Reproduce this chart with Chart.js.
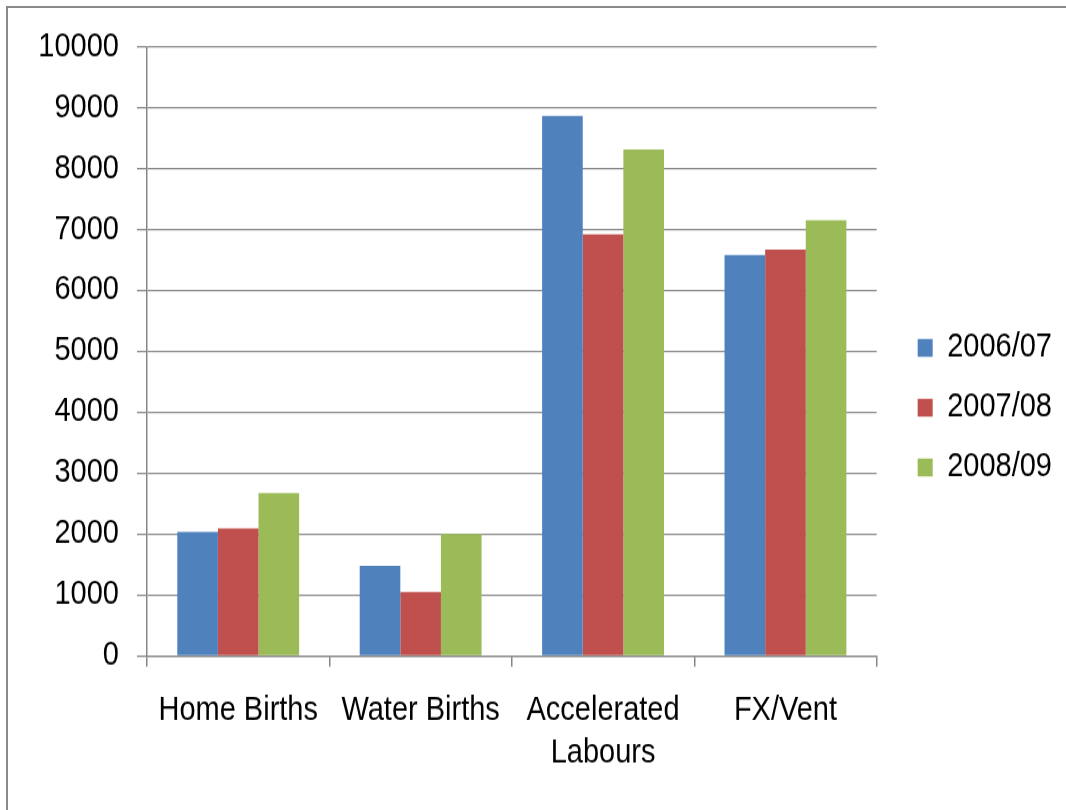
<!DOCTYPE html>
<html>
<head>
<meta charset="utf-8">
<script src="https://cdn.jsdelivr.net/npm/chart.js@4"></script>
<style>
    html, body { margin: 0; padding: 0; background: #fff; overflow: hidden; }
    body { width: 1066px; height: 810px; position: relative; }
    #frame { position: absolute; left: 6px; top: 6px; width: 1080px; height: 820px; border-left: 2px solid #8a8a8a; border-top: 2px solid #8a8a8a; }
    /* source picture is stretched vertically, so the chart is drawn short and scaled up */
    #wrap { position: absolute; left: 0; top: 0; width: 1066px; height: 704.35px; transform: scaleY(1.15); transform-origin: 0 0; }
</style>
</head>
<body>
<div id="frame"></div>
<div id="wrap"><canvas id="birthChart"></canvas></div>
<script>
const categories = ['Home Births', 'Water Births', ['Accelerated', 'Labours'], 'FX/Vent'];
const seriesNames = ['2006/07', '2007/08', '2008/09'];
const values0607 = [2035, 1480, 8865, 6580];
const values0708 = [2090, 1050, 6920, 6670];
const values0809 = [2670, 2000, 8310, 7150];
const yMin = 0, yMax = 10000, yStep = 1000;

const colors = ['#4f81bd', '#c0504d', '#9bbb59'];
const gridColor = '#878787';
const fontFamily = "'Liberation Sans', Arial, sans-serif";

const ctx = document.getElementById('birthChart').getContext('2d');
const birthChart = new Chart(ctx, {
    type: 'bar',
    data: {
        labels: categories,
        datasets: [values0607, values0708, values0809].map((d, i) => ({
            label: seriesNames[i],
            data: d,
            backgroundColor: colors[i],
            borderWidth: 0,
            categoryPercentage: 0.668,
            barPercentage: 1
        }))
    },
    options: {
        responsive: true, maintainAspectRatio: false,
        animation: false,
        layout: { padding: { top: 40.6, bottom: 36, left: 0, right: 4 } },
        plugins: {
            tooltip: { enabled: false },
            legend: {
                position: 'right',
                labels: {
                    color: '#000',
                    font: { family: fontFamily, size: 29 },
                    boxWidth: 15,
                    boxHeight: 15.6,
                    padding: 23
                }
            }
        },
        scales: {
            x: {
                grid: { drawOnChartArea: false, drawTicks: true, tickLength: 9.5, color: gridColor, lineWidth: 1.5, offset: true },
                border: { display: true, color: gridColor, width: 1.3 },
                ticks: { color: '#000', font: { family: fontFamily, size: 29, lineHeight: 1.27 }, padding: 20, maxRotation: 0, minRotation: 0 },
                afterFit: s => { s.height = 98; }
            },
            y: {
                min: yMin, max: yMax,
                ticks: { stepSize: yStep, color: '#000', font: { family: fontFamily, size: 29 }, padding: 18, callback: v => String(v) },
                grid: { color: gridColor, lineWidth: 1.3, tickLength: 10 },
                border: { display: true, color: gridColor, width: 1.5 },
                afterFit: s => { s.width = 147; }
            },
            // empty spacer between plot and legend
            gap: {
                type: 'linear', axis: 'y', position: 'right',
                grid: { display: false }, ticks: { display: false }, border: { display: false },
                afterFit: s => { s.width = 18; }
            }
        }
    }
});
</script>
</body>
</html>
